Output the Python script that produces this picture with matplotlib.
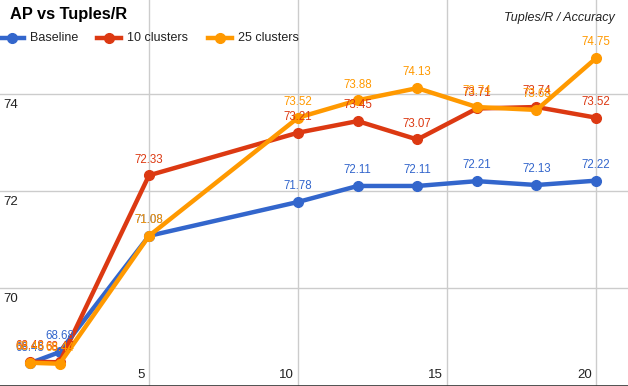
''' AP vs Tuples/R line chart, google-charts look
'''
import matplotlib
matplotlib.use('Agg')
import matplotlib.pyplot as plt
from matplotlib.lines import Line2D

plt.rcParams['font.family'] = ['Liberation Sans', 'DejaVu Sans']

tuples_r = [1, 2, 5, 10, 12, 14, 16, 18, 20]
baseline = [68.45, 68.68, 71.08, 71.78, 72.11, 72.11, 72.21, 72.13, 72.22]
clusters_10 = [68.48, 68.47, 72.33, 73.21, 73.45, 73.07, 73.71, 73.74, 73.52]
clusters_25 = [68.46, 68.44, 71.08, 73.52, 73.88, 74.13, 73.74, 73.68, 74.75]
series_names = ['Baseline', '10 clusters', '25 clusters']
y_ticks = [70, 72, 74]
x_ticks = [5, 10, 15, 20]

colors = ['#3366CC', '#DC3912', '#FF9900']
grid_color = '#CCCCCC'

fig = plt.figure(figsize=(6.28, 3.86), dpi=100)
ax = fig.add_axes([0, 0, 1, 1])
ax.set_xlim(0, 21.07)
ax.set_ylim(67.98, 75.95)
ax.axis('off')

# grid
for y in y_ticks:
    ax.axhline(y, color=grid_color, lw=1, zorder=0)
    ax.text(0.1, y - 0.1, str(y), ha='left', va='top', fontsize=9.5, color='#222222')
for x in x_ticks:
    ax.axvline(x, color=grid_color, lw=1, zorder=0)
    ax.text(x - 0.15, 68.08, str(x), ha='right', va='bottom', fontsize=9.5, color='#222222')
ax.axhline(67.99, color='#333333', lw=1.2, zorder=1)

# series
for i, (vals, color) in enumerate(zip([baseline, clusters_10, clusters_25], colors)):
    ax.plot(tuples_r, vals, color=color, lw=3.2, marker='o', ms=7, zorder=2 + i,
            solid_capstyle='round')
    for x, y in zip(tuples_r, vals):
        ax.annotate(f'{y:.2f}', (x, y), xytext=(0, 7), textcoords='offset points',
                    ha='center', va='bottom', fontsize=8.3, color=color, zorder=5 + i)

# title, legend, axis caption
fig.text(10 / 628, 1 - 15 / 386, 'AP vs Tuples/R', fontsize=11.8, fontweight='bold',
         ha='left', va='center', color='#000000')
fig.text(615 / 628, 1 - 18 / 386, 'Tuples/R / Accuracy', fontsize=9, style='italic',
         ha='right', va='center', color='#222222')

legend_x = [0, 97, 208]
for lx, name, color in zip(legend_x, series_names, colors):
    y = 1 - 38 / 386
    fig.add_artist(Line2D([lx / 628, (lx + 24) / 628], [y, y], color=color, lw=3.2,
                          transform=fig.transFigure))
    fig.add_artist(Line2D([(lx + 12) / 628], [y], color=color, marker='o', ms=7,
                          transform=fig.transFigure))
    fig.text((lx + 30) / 628, y, name, fontsize=9, ha='left', va='center', color='#222222')

fig.savefig('out.png', dpi=100)
